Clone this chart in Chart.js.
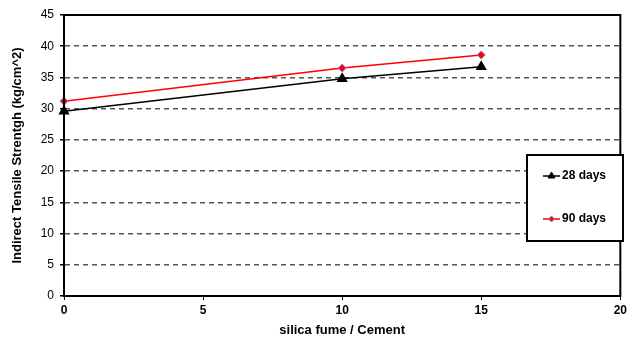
<!DOCTYPE html>
<html>
<head>
<meta charset="utf-8">
<script src="https://cdn.jsdelivr.net/npm/chart.js@4"></script>
<style>
    html, body { margin: 0; padding: 0; background: #fff; }
    #wrap { width: 630px; height: 338px; position: relative; }
</style>
</head>
<body>
<div id="wrap"><canvas id="chart"></canvas></div>
<script>
const silicaFume = [0, 10, 15];
const days28 = [29.6, 34.8, 36.7];
const days90 = [31.2, 36.5, 38.6];
const seriesLabels = ['28 days', '90 days'];

const toPoints = (ys) => silicaFume.map((x, i) => ({ x: x, y: ys[i] }));

// frame around the plot + boxed legend on the right
const framePlugin = {
    id: 'frame',
    afterDatasetsDraw(chart) {
        const { ctx, chartArea: a } = chart;
        ctx.save();
        ctx.strokeStyle = '#000';
        ctx.lineWidth = 2;
        ctx.strokeRect(a.left, a.top, a.right - a.left, a.bottom - a.top);

        // legend box
        const bx = 527, by = 155, bw = 96, bh = 86;
        ctx.fillStyle = '#fff';
        ctx.fillRect(bx, by, bw, bh);
        ctx.strokeRect(bx, by, bw, bh);

        const rows = [176, 219];
        chart.data.datasets.forEach((ds, i) => {
            const y = rows[i];
            ctx.strokeStyle = ds.borderColor;
            ctx.lineWidth = 1.5;
            ctx.beginPath();
            ctx.moveTo(543, y);
            ctx.lineTo(560, y);
            ctx.stroke();
            ctx.fillStyle = ds.pointBackgroundColor;
            ctx.strokeStyle = ds.pointBorderColor;
            ctx.lineWidth = 1;
            Chart.helpers.drawPoint(ctx, {
                pointStyle: ds.pointStyle,
                radius: ds.pointRadius - 1,
                borderWidth: 1
            }, 551.5, y);
            ctx.fillStyle = '#000';
            ctx.font = 'bold 12px "Liberation Sans", Arial, sans-serif';
            ctx.textBaseline = 'middle';
            ctx.fillText(ds.label, 562, y);
        });
        ctx.restore();
    }
};

Chart.defaults.font.family = '"Liberation Sans", Arial, sans-serif';
Chart.defaults.color = '#000';

new Chart(document.getElementById('chart').getContext('2d'), {
    type: 'line',
    data: {
        datasets: [{
            label: seriesLabels[0],
            data: toPoints(days28),
            borderColor: '#000',
            backgroundColor: '#000',
            borderWidth: 1.5,
            pointStyle: 'triangle',
            pointRadius: 5,
            pointBorderColor: '#000',
            pointBackgroundColor: '#000',
            tension: 0,
            clip: false
        }, {
            label: seriesLabels[1],
            data: toPoints(days90),
            borderColor: '#ff0000',
            backgroundColor: '#ff0000',
            borderWidth: 1.5,
            pointStyle: 'rectRot',
            pointRadius: 4,
            pointBorderColor: '#7a86d6',
            pointBorderWidth: 1,
            pointBackgroundColor: '#ff0000',
            tension: 0,
            clip: false
        }]
    },
    options: {
        responsive: true,
        maintainAspectRatio: false,
        animation: false,
        layout: { padding: { top: 15, right: 6, bottom: 0, left: 0 } },
        plugins: {
            legend: { display: false },
            tooltip: { enabled: false }
        },
        scales: {
            x: {
                type: 'linear',
                min: 0,
                max: 20,
                afterFit(scale) { scale.height = 42; },
                ticks: { stepSize: 5, font: { size: 12, weight: 'bold' }, padding: 3 },
                grid: { drawOnChartArea: false, drawTicks: true, tickLength: 4, tickColor: '#000' },
                border: { color: '#000', width: 2 },
                title: {
                    display: true,
                    text: 'silica fume / Cement',
                    font: { size: 13, weight: 'bold' },
                    padding: { top: 3, bottom: 0 }
                }
            },
            y: {
                min: 0,
                max: 45,
                afterFit(scale) { scale.width = 64; },
                ticks: { stepSize: 5, font: { size: 12 }, padding: 6 },
                grid: {
                    color: '#555',
                    lineWidth: 1.5,
                    tickLength: 4,
                    tickColor: '#000',
                    tickBorderDash: []
                },
                border: { color: '#000', width: 2, dash: [5, 4] },
                title: {
                    display: true,
                    text: 'Indirect Tensile Strentgh (kg/cm^2)',
                    font: { size: 13, weight: 'bold' },
                    padding: { top: 10, bottom: 0 }
                }
            }
        }
    },
    plugins: [framePlugin]
});
</script>
</body>
</html>
